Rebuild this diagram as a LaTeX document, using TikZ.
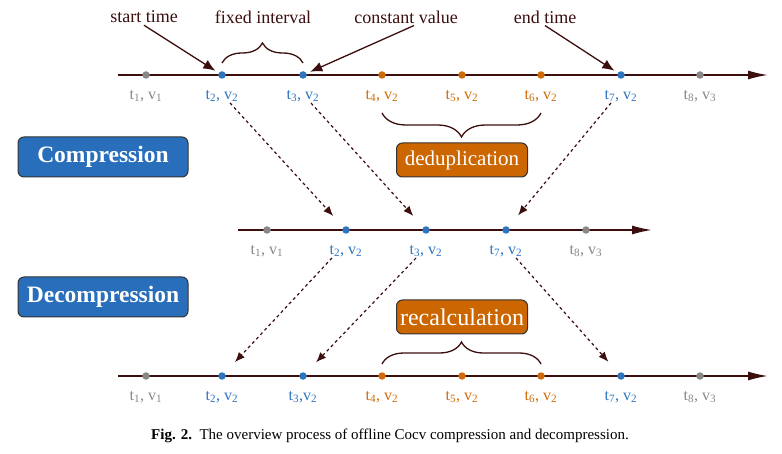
\documentclass[tikz,border=0pt]{standalone}
\usepackage{fontspec}
\setmainfont{Liberation Serif}
\usetikzlibrary{positioning,arrows.meta,decorations.pathreplacing}
\definecolor{axisbrown}{RGB}{60,14,14}
\definecolor{ptgray}{RGB}{136,136,136}
\definecolor{ptblue}{RGB}{46,117,190}
\definecolor{ptorange}{RGB}{206,108,10}
\definecolor{boxblue}{RGB}{40,110,186}
\definecolor{boxorange}{RGB}{204,102,0}
\tikzset{
  axisline/.style={axisbrown,line width=1.6pt,-{Latex[length=20pt,width=9pt]}},
  dot/.style={circle,fill=#1,inner sep=0pt,minimum size=7.5pt},
  tlabel/.style={text=#1,inner sep=1pt,font=\fontsize{16}{16}\selectfont},
  tag/.style={inner sep=2pt,text=axisbrown,font=\fontsize{18}{18}\selectfont},
  pointer/.style={axisbrown,line width=1.3pt,-{Latex[length=12pt,width=10pt]},shorten >=4pt},
  flow/.style={axisbrown,line width=1.2pt,dash pattern=on 3pt off 3pt,-{Latex[length=10pt,width=8pt]},shorten >=15pt},
  brc/.style={decorate,decoration={brace,amplitude=#1},axisbrown,line width=1.3pt},
  stagebox/.style={draw=black!80,line width=1pt,rounded corners=6pt,fill=boxblue,text=white,minimum width=170pt,minimum height=40pt,font=\fontsize{23.5}{24}\selectfont\bfseries},
  opbox/.style={draw=black!80,line width=1pt,rounded corners=6pt,fill=boxorange,text=white,minimum width=131pt,minimum height=34pt,inner sep=2pt}
}
\begin{document}
\begin{tikzpicture}[x=1pt,y=-1pt]
\useasboundingbox (0,0) rectangle (782,454);
% original series
\coordinate (ustart) at (118,75); \coordinate (uend) at (768,75);
\draw[axisline] (ustart) -- (uend);
\foreach \i/\x/\c/\v in {1/146/ptgray/1,2/222/ptblue/2,3/303/ptblue/2,4/382/ptorange/2,5/462/ptorange/2,6/541/ptorange/2,7/621/ptblue/2,8/700/ptgray/3}{
  \node[dot=\c] (u\i) at (\x,75) {};
  \node[tlabel=\c,below=10pt of u\i] (ul\i) {t\textsubscript{\i}, v\textsubscript{\v}};
}
\node[tag] (start) at (144,17) {start time};
\node[tag] (fixed) at (263,17) {fixed interval};
\node[tag] (const) at (406,17) {constant value};
\node[tag] (endt) at (545,17) {end time};
\draw[pointer] (start.south) -- (u2);
\draw[pointer] ([xshift=8pt]const.south) -- (u3);
\draw[pointer] (endt.south) -- (u7);
\draw[brc=20pt] ([yshift=12pt]u2.center) -- ([yshift=12pt]u3.center);
\draw[brc=24pt] ([yshift=-38pt]u6.center) -- ([yshift=-38pt]u4.center);
\node[opbox,font=\fontsize{21}{21}\selectfont] (dedup) at (462,160) {deduplication};
\node[stagebox] (comp) at (103,157) {Compression};
\node[stagebox] (decomp) at (103,297) {Decompression};
% compressed series
\coordinate (mstart) at (238,230); \coordinate (mend) at (652,230);
\draw[axisline] (mstart) -- (mend);
\foreach \i/\x/\c/\v in {1/267/ptgray/1,2/346/ptblue/2,3/426/ptblue/2,7/506/ptblue/2,8/586/ptgray/3}{
  \node[dot=\c] (m\i) at (\x,230) {};
  \node[tlabel=\c,below=10pt of m\i] (ml\i) {t\textsubscript{\i}, v\textsubscript{\v}};
}
\draw[flow] ([xshift=8pt]ul2.south) -- (m2);
\draw[flow] ([xshift=8pt]ul3.south) -- (m3);
\draw[flow] ([xshift=-10pt]ul7.south) -- (m7);
% restored series
\coordinate (bstart) at (118,376); \coordinate (bend) at (768,376);
\draw[axisline] (bstart) -- (bend);
\foreach \i/\x/\c/\txt in {1/146/ptgray/{t\textsubscript{1}, v\textsubscript{1}},2/222/ptblue/{t\textsubscript{2}, v\textsubscript{2}},3/303/ptblue/{t\textsubscript{3},v\textsubscript{2}},4/382/ptorange/{t\textsubscript{4}, v\textsubscript{2}},5/462/ptorange/{t\textsubscript{5}, v\textsubscript{2}},6/541/ptorange/{t\textsubscript{6}, v\textsubscript{2}},7/621/ptblue/{t\textsubscript{7}, v\textsubscript{2}},8/700/ptgray/{t\textsubscript{8}, v\textsubscript{3}}}{
  \node[dot=\c] (b\i) at (\x,376) {};
  \node[tlabel=\c,below=10pt of b\i] (bl\i) {\txt};
}
\draw[flow] ([xshift=-14pt]ml2.south) -- (b2);
\draw[flow] ([xshift=-10pt]ml3.south) -- (b3);
\draw[flow] ([xshift=10pt]ml7.south) -- (b7);
\draw[brc=22pt] ([yshift=12pt]b4.center) -- ([yshift=12pt]b6.center);
\node[opbox,font=\fontsize{24}{24}\selectfont] (recalc) at (462,317) {recalculation};
\node[font=\fontsize{15}{16}\selectfont] (caption) at (390,436) {\textbf{Fig. 2.}\enspace The overview process of offline Cocv compression and decompression.};
\end{tikzpicture}
\end{document}
